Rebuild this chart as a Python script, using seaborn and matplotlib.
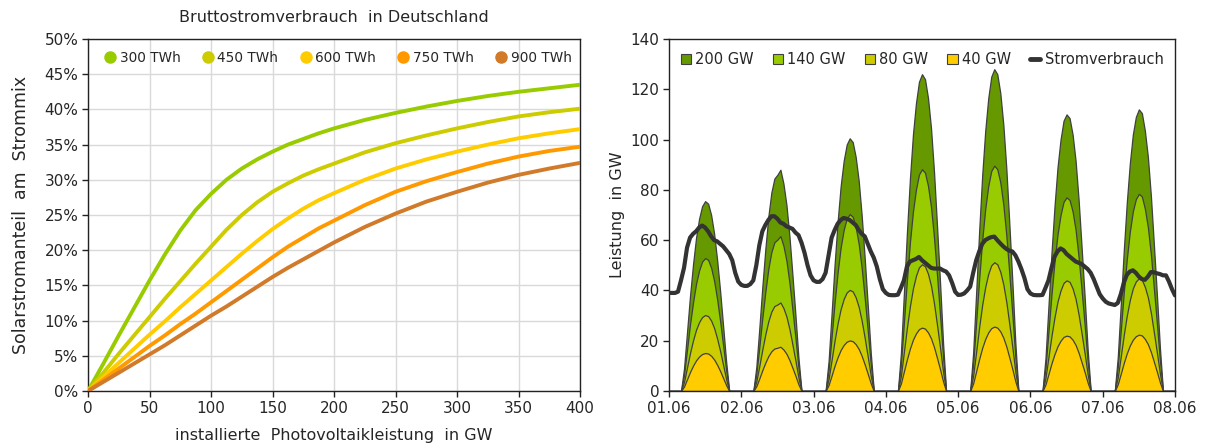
import numpy as np
import pandas as pd
import matplotlib
matplotlib.use("Agg")
import matplotlib.pyplot as plt
import matplotlib.patches as mpatches
import matplotlib.lines as mlines
import seaborn as sns

# ---------------------------------------------------------
# Daten links: Solarstromanteil (%) ueber installierter PV-Leistung (GW)
# ---------------------------------------------------------
pv_leistung = [0, 12.5, 25, 37.5, 50, 62.5, 75, 87.5, 100, 112.5, 125, 137.5, 150,
               162.5, 175, 187.5, 200, 225, 250, 275, 300, 325, 350, 375, 400]
verbrauch_labels = ["300 TWh", "450 TWh", "600 TWh", "750 TWh", "900 TWh"]
anteil_300 = [0, 3.9, 7.9, 11.8, 15.7, 19.4, 22.8, 25.7, 28.0, 30.0, 31.6, 32.9, 34.0,
              35.0, 35.8, 36.6, 37.3, 38.5, 39.5, 40.4, 41.2, 41.9, 42.5, 43.0, 43.5]
anteil_450 = [0, 2.6, 5.3, 7.9, 10.5, 13.1, 15.6, 18.1, 20.5, 22.9, 25.0, 26.8, 28.3,
              29.5, 30.6, 31.5, 32.3, 33.9, 35.2, 36.3, 37.3, 38.2, 39.0, 39.6, 40.1]
anteil_600 = [0, 2.0, 4.0, 6.0, 8.0, 9.9, 11.9, 13.8, 15.7, 17.6, 19.5, 21.3, 23.0,
              24.5, 25.9, 27.1, 28.1, 30.0, 31.6, 32.9, 34.0, 35.0, 35.9, 36.6, 37.2]
anteil_750 = [0, 1.6, 3.2, 4.8, 6.4, 7.9, 9.5, 11.0, 12.6, 14.2, 15.8, 17.4, 19.0,
              20.5, 21.8, 23.1, 24.2, 26.4, 28.3, 29.8, 31.1, 32.3, 33.3, 34.1, 34.7]
anteil_900 = [0, 1.3, 2.6, 3.9, 5.2, 6.5, 7.9, 9.3, 10.7, 12.0, 13.4, 14.8, 16.2,
              17.5, 18.7, 19.9, 21.1, 23.3, 25.2, 26.9, 28.3, 29.6, 30.7, 31.6, 32.4]
linien_farben = ["#99CC00", "#CCCC00", "#FFCC00", "#FF9900", "#D07A2A"]

# ---------------------------------------------------------
# Daten rechts: Stundenwerte 01.06. - 08.06.
# ---------------------------------------------------------
datum_labels = ["01.06", "02.06", "03.06", "04.06", "05.06", "06.06", "07.06", "08.06"]
kapazitaeten = [200, 140, 80, 40]  # GW installiert
flaechen_farben = ["#669900", "#99CC00", "#CCCC00", "#FFCC00"]

# PV-Einspeisung bei 40 GW installierter Leistung (GW), je Tag 24 Stunden
pv_40gw_tage = [
    [0, 0, 0, 0, 0, 1.8, 4.7, 7.6, 10.1, 12.2, 13.7, 14.7, 15.1, 14.9, 14.0, 12.5, 10.4, 7.9, 5.1, 2.3, 0, 0, 0, 0],
    [0, 0, 0, 0, 0, 1.9, 5.0, 8.3, 11.3, 13.9, 15.8, 16.9, 17.2, 17.6, 16.5, 14.8, 12.3, 9.2, 6.0, 2.6, 0, 0, 0, 0],
    [0, 0, 0, 0, 0, 2.4, 6.2, 10.1, 13.5, 16.3, 18.3, 19.6, 20.1, 19.8, 18.6, 16.7, 13.9, 10.5, 6.8, 3.0, 0, 0, 0, 0],
    [0, 0, 0, 0, 0, 3.0, 7.8, 12.6, 16.9, 20.4, 22.9, 24.6, 25.2, 24.8, 23.3, 20.9, 17.4, 13.1, 8.6, 3.8, 0, 0, 0, 0],
    [0, 0, 0, 0, 0, 3.1, 7.9, 12.8, 17.2, 20.7, 23.3, 25.0, 25.6, 25.2, 23.7, 21.2, 17.7, 13.3, 8.7, 3.8, 0, 0, 0, 0],
    [0, 0, 0, 0, 0, 2.6, 6.8, 11.0, 14.7, 17.8, 20.0, 21.5, 22.0, 21.7, 20.4, 18.3, 15.2, 11.4, 7.5, 3.3, 0, 0, 0, 0],
    [0, 0, 0, 0, 0, 2.7, 6.9, 11.2, 15.0, 18.1, 20.4, 21.8, 22.4, 22.1, 20.7, 18.6, 15.5, 11.6, 7.6, 3.4, 0, 0, 0, 0],
]
pv_40gw_ende = 0

# Stromverbrauch (GW), je Tag 24 Stunden
verbrauch_tage = [
    [39, 39, 39, 39.5, 44, 49, 57, 61, 62.5, 63.5, 65, 65.8, 65, 63.5, 61.5, 60, 59.5, 58.5, 57.5, 56, 54.5, 52, 47, 43.5],
    [42.2, 41.8, 41.8, 42.5, 44, 50, 58, 63.5, 66, 68, 69.5, 69.5, 68.5, 67, 66.5, 65.5, 65, 64.5, 63, 62, 59, 55, 50, 46],
    [44, 43.4, 43.4, 44.5, 47, 54, 61, 64, 66.5, 68, 68.8, 68.5, 68, 67, 66, 64, 62.5, 61.5, 58.5, 55.5, 53, 49.5, 44.5, 40.5],
    [39, 38.2, 38.1, 38.1, 38.3, 41, 44, 49.5, 51.5, 52, 52.5, 53.3, 52, 51, 50, 49, 48.7, 48.7, 48.7, 48, 47.5, 46, 43, 39.5],
    [38.2, 38.3, 38.8, 40, 41.5, 47, 52, 55.5, 58.5, 60, 60.7, 61.2, 61.4, 60, 58.7, 57.5, 56.5, 55.8, 55.5, 54, 51.5, 48.5, 45, 40.5],
    [38.8, 38.2, 38.1, 38.1, 38.2, 41, 44, 49, 53.4, 55.5, 56.7, 56, 54.5, 53.5, 52.5, 51.5, 51, 50.5, 49.5, 48.5, 47, 44.5, 41.5, 38.5],
    [36.8, 35.5, 34.8, 34.5, 34.2, 35, 38.5, 43, 46.2, 47.5, 48, 47, 45.5, 44.5, 44.2, 45.5, 47.3, 47.2, 46.8, 46.5, 46, 46, 43.5, 40.5],
]
verbrauch_ende = 38

sns.set_theme(style="white")
plt.rcParams['font.family'] = ['DejaVu Sans']

fig = plt.figure(figsize=(12.06, 4.43), dpi=100)
ax1 = fig.add_axes([0.073, 0.1174, 0.408, 0.7946])
ax2 = fig.add_axes([0.5547, 0.1174, 0.4196, 0.7946])

# ---------------------------------------------------------
# Links: Linien
# ---------------------------------------------------------
anteile = [anteil_300, anteil_450, anteil_600, anteil_750, anteil_900]
df_links = pd.concat([
    pd.DataFrame({"pv": pv_leistung, "anteil": a, "verbrauch": lab})
    for a, lab in zip(anteile, verbrauch_labels)
])
sns.lineplot(data=df_links, x="pv", y="anteil", hue="verbrauch", palette=linien_farben,
             linewidth=2.8, ax=ax1, legend=False, zorder=3)

ax1.set_xlim(0, 400)
ax1.set_ylim(0, 50)
ax1.set_xticks(range(0, 401, 50))
ax1.set_yticks(range(0, 51, 5))
ax1.set_yticklabels([f"{v}%" for v in range(0, 51, 5)])
ax1.grid(True, color="#D9D9D9", linewidth=1)
ax1.set_axisbelow(True)
ax1.set_xlabel("installierte  Photovoltaikleistung  in GW", fontsize=11.5, labelpad=9)
ax1.set_ylabel("Solarstromanteil  am  Strommix", fontsize=12.5, labelpad=10)
ax1.set_title("Bruttostromverbrauch  in Deutschland", fontsize=11.5, pad=12)

handles1 = [mlines.Line2D([], [], color=c, marker="o", linestyle="None", markersize=8, label=l)
            for c, l in zip(linien_farben, verbrauch_labels)]
ax1.legend(handles=handles1, loc="upper center", ncol=5, frameon=False, fontsize=9.8,
           handletextpad=-0.3, columnspacing=1.0, bbox_to_anchor=(0.5, 1.0))

# ---------------------------------------------------------
# Rechts: Flaechen + Verbrauch
# ---------------------------------------------------------
stunden = np.arange(len(pv_40gw_tage) * 24 + 1)
pv_40 = np.array([v for tag in pv_40gw_tage for v in tag] + [pv_40gw_ende])
verbrauch = np.array([v for tag in verbrauch_tage for v in tag] + [verbrauch_ende])

# Einspeisung skaliert mit installierter Leistung, groesste Flaeche hinten
for kap, farbe in zip(kapazitaeten, flaechen_farben):
    ax2.fill_between(stunden, 0, pv_40 * kap / 40, facecolor=farbe, edgecolor="#404040",
                     linewidth=0.9, zorder=2)

df_rechts = pd.DataFrame({"stunde": stunden, "verbrauch": verbrauch})
sns.lineplot(data=df_rechts, x="stunde", y="verbrauch", color="#333333", linewidth=3,
             ax=ax2, zorder=4)

ax2.set_xlim(0, 168)
ax2.set_ylim(0, 140)
ax2.set_xticks(range(0, 169, 24))
ax2.set_xticklabels(datum_labels)
ax2.set_yticks(range(0, 141, 20))
ax2.set_xlabel("")
ax2.set_ylabel("Leistung  in GW", fontsize=11.5, labelpad=4)

handles2 = [mpatches.Patch(facecolor=f, edgecolor="#404040", linewidth=0.8, label=f"{k} GW")
            for k, f in zip(kapazitaeten, flaechen_farben)]
handles2.append(mlines.Line2D([], [], color="#333333", linewidth=3.5, label="Stromverbrauch"))
ax2.legend(handles=handles2, loc="upper center", ncol=5, frameon=False, fontsize=10.5,
           handlelength=0.7, handleheight=0.7, handletextpad=0.3, columnspacing=1.3,
           bbox_to_anchor=(0.5, 1.0))

for ax in (ax1, ax2):
    for s in ax.spines.values():
        s.set_color("#222222")
        s.set_linewidth(1)
    ax.tick_params(axis="both", which="major", labelsize=11, direction="out", length=4,
                   width=1, color="#222222", bottom=True, left=True, pad=3)

fig.savefig("out.png", dpi=100)
